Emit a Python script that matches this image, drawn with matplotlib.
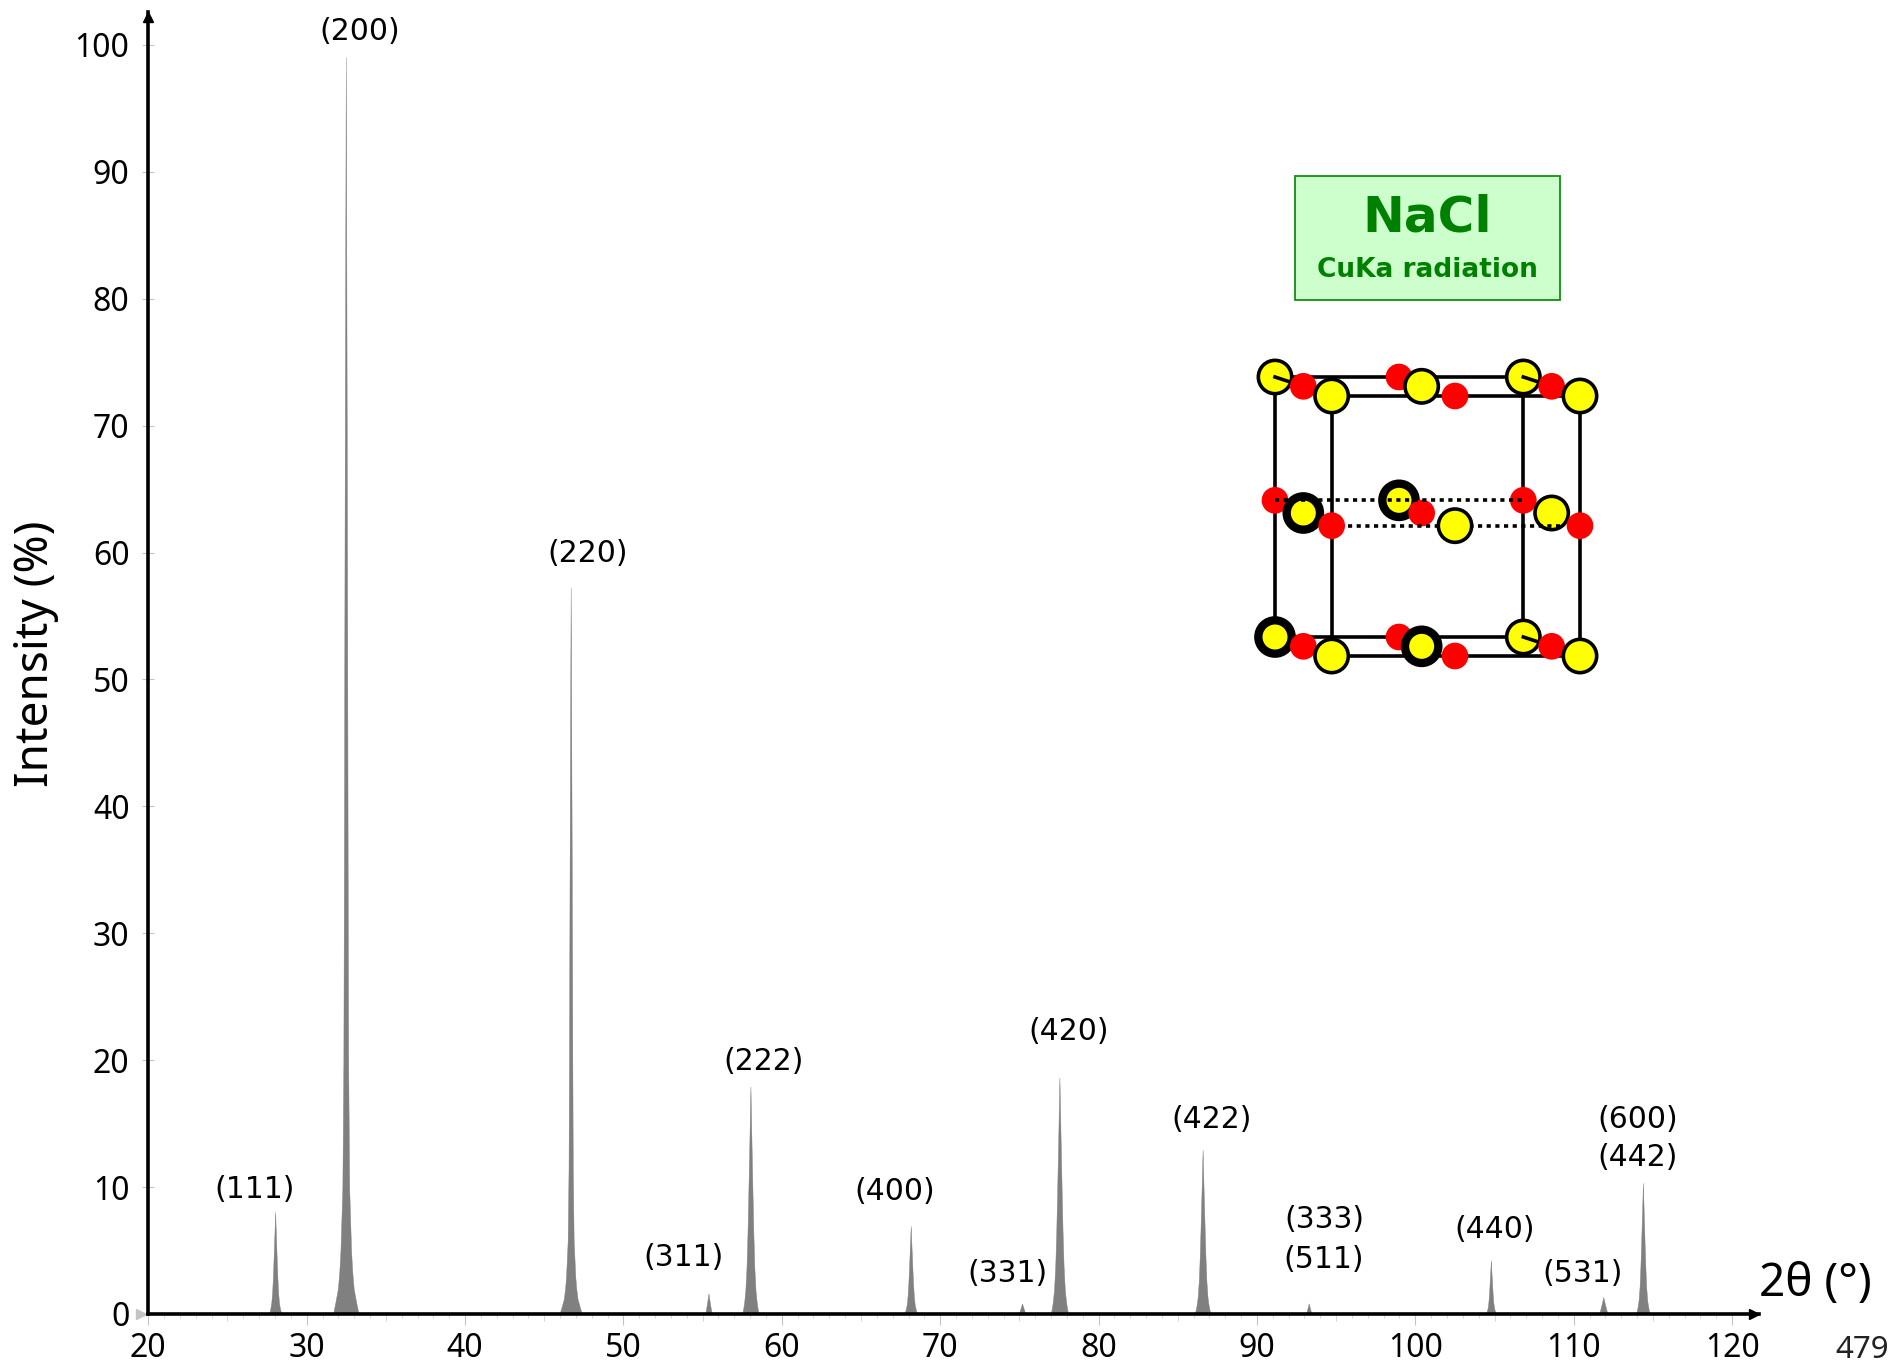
#!/usr/bin/env python3
# -*- coding: utf-8 -*-
import matplotlib
matplotlib.use("Agg")
import matplotlib.pyplot as plt
from matplotlib.patches import Circle, Rectangle

W, H = 1895, 1366
plt.rcParams['font.family'] = ['Noto Sans', 'DejaVu Sans']

# peaks
PEAK_HKL = ["111", "200", "220", "311", "222", "400", "331", "420", "422", "333/511", "440", "531", "600/442"]
PEAK_POS = [28.04, 32.5, 46.7, 55.4, 58.05, 68.17, 75.2, 77.56, 86.6, 93.3, 104.8, 111.9, 114.4]
PEAK_INT = [8.0, 99.0, 57.2, 1.6, 17.9, 6.9, 0.8, 18.6, 12.9, 0.8, 4.2, 1.3, 10.3]
PEAK_BASE = [0.40, 0.80, 0.70, 0.20, 0.52, 0.41, 0.21, 0.55, 0.50, 0.17, 0.33, 0.26, 0.44]
# peak outlines as seen on the tall, medium and tiny peaks
TALL_H = [0, 0.005, 0.01, 0.02, 0.035, 0.05, 0.10, 0.20, 0.35, 0.60, 0.85, 1.0]
TALL_W = [1, 0.90, 0.80, 0.62, 0.50, 0.42, 0.27, 0.19, 0.15, 0.10, 0.04, 0.0]
MID_H = [0, 0.02, 0.05, 0.10, 0.20, 0.35, 0.50, 0.75, 1.0]
MID_W = [1, 0.88, 0.76, 0.62, 0.48, 0.36, 0.27, 0.13, 0.0]
SMALL_H = [0, 0.25, 0.50, 0.75, 1.0]
SMALL_W = [1, 0.72, 0.46, 0.22, 0.0]

X_TICKS = list(range(20, 121, 10))
Y_TICKS = list(range(0, 101, 10))

# label text and its centre in reference pixels
LABEL_TXT = ["(111)", "(200)", "(220)", "(311)", "(222)", "(400)", "(331)", "(420)", "(422)",
             "(333)", "(511)", "(440)", "(531)", "(600)", "(442)"]
LABEL_PX = [255, 360, 588, 684, 764, 895, 1007, 1069, 1212, 1324, 1324, 1495, 1583, 1638, 1638]
LABEL_PY = [1188, 29, 552, 1256, 1059, 1190, 1272, 1030, 1117, 1218, 1257, 1227, 1272, 1118, 1155]

# rock salt cell: centres by depth k and position i / height j, in crop units
CELL_X = [[165, 537, 910], [250, 605, 995], [335, 705, 1080]]
CELL_Y = [[651, 1021, 1431], [679, 1059, 1459], [708, 1097, 1488]]
THICK_ATOMS = [(0, 2, 0), (0, 1, 1), (1, 1, 0), (1, 2, 1)]  # i, j, k

fig = plt.figure(figsize=(W / 100, H / 100), dpi=100)
ax = fig.add_axes([148.3 / W, 1 - 1314 / H, (1759 - 148.3) / W, (1314 - 12) / H])
ax.set_xlim(20, 121.7)
ax.set_ylim(0, 102.6)

for pos, h, base in zip(PEAK_POS, PEAK_INT, PEAK_BASE):
    if h > 40:
        ph, pw = TALL_H, TALL_W
    elif h > 2:
        ph, pw = MID_H, MID_W
    else:
        ph, pw = SMALL_H, SMALL_W
    xs = [pos - base * w for w in pw] + [pos + base * w for w in pw[::-1]]
    ys = [h * p for p in ph] + [h * p for p in ph[::-1]]
    ax.fill(xs, ys, color="#808080", lw=0.3, zorder=2)

for s in ["top", "right"]:
    ax.spines[s].set_visible(False)
for s in ["left", "bottom"]:
    ax.spines[s].set_linewidth(2.6)
    ax.spines[s].set_zorder(4)

ax.set_xticks(X_TICKS)
ax.set_yticks(Y_TICKS)
ax.set_xticks(range(21, 121), minor=True)
ax.tick_params(axis="x", which="major", length=8, width=0.8, color="#c4c4c4", pad=5, labelsize=23)
ax.tick_params(axis="x", which="minor", length=3, width=0.6, color="#d0d0d0")
ax.tick_params(axis="y", which="major", direction="inout", length=9, width=0.8, color="#c4c4c4", pad=9, labelsize=23)
for t, loc in zip(ax.xaxis.get_minor_ticks(), ax.xaxis.get_minorticklocs()):
    if int(round(loc)) % 5 == 0:
        t.tick1line.set_markersize(5)

# axis arrows and the little grey marker at the origin
ax.plot(1 - 5 / 1611, 0, ">", ms=7.5, color="black", transform=ax.transAxes, clip_on=False, zorder=5)
ax.plot(0, 1 - 5 / 1302, "^", ms=7, color="black", transform=ax.transAxes, clip_on=False, zorder=5)
ax.plot(19.55, 0, ">", ms=7, color="#c4c4c4", clip_on=False, zorder=1)


def put(px, py, s, size, **kw):
    fig.text(px / W, 1 - py / H, s, fontsize=size, ha="center", va="center", **kw)


for s, px, py in zip(LABEL_TXT, LABEL_PX, LABEL_PY):
    put(px, py + 2, s, 21.5, color="black", family="DejaVu Sans")
put(36, 654, "Intensity (%)", 33, rotation=90)
put(1815, 1284, "2θ (°)", 33)
put(1862, 1350, "479", 22.5, color="#222222")

# inset with the label box and unit cell, in crop units
ins = fig.add_axes([1220 / W, 1 - 700 / H, 400 / W, 540 / H])
ins.set_xlim(0, 1200)
ins.set_ylim(1620, 0)
ins.axis("off")

ins.add_patch(Rectangle((225, 48), 795, 373, fc="#ccffcc", ec="#109010", lw=1.3))
ins.text(622, 173, "NaCl", color="#008000", fontsize=36, fontweight="bold", family="DejaVu Sans", ha="center", va="center")
ins.text(622, 331, "CuKa radiation", color="#008000", fontsize=19, fontweight="bold", family="DejaVu Sans", ha="center", va="center")

# cell edges
for k in [0, 2]:
    xl, xr = CELL_X[k][0], CELL_X[k][2]
    yt, yb = CELL_Y[k][0], CELL_Y[k][2]
    ins.plot([xl, xr], [yt, yt], color="black", lw=2.6, zorder=1)
    ins.plot([xl, xr], [yb, yb], color="black", lw=2.6, zorder=1)
    ins.plot([xl, xl], [yt, yb], color="black", lw=2.6, zorder=1)
    ins.plot([xr, xr], [yt, yb], color="black", lw=2.6, zorder=1)

for k in range(3):
    for i in range(3):
        for j in range(3):
            x, y = CELL_X[k][i], CELL_Y[k][j]
            z = 2 + k + 0.1 * j
            if (i + j + k) % 2:
                ins.add_patch(Circle((x, y), 40, fc="#ff0000", ec="none", zorder=z))
            elif (i, j, k) in THICK_ATOMS:
                ins.add_patch(Circle((x, y), 50, fc="#ffff00", ec="black", lw=6, zorder=z))
            else:
                ins.add_patch(Circle((x, y), 50, fc="#ffff00", ec="black", lw=2.6, zorder=z))

# dotted mid planes run over the back atoms
ins.plot([CELL_X[0][0], CELL_X[0][2]], [CELL_Y[0][1]] * 2, color="black", lw=2.6, ls=(0, (1.15, 1.25)), zorder=3.5)
ins.plot([CELL_X[2][0] + 50, CELL_X[2][2] - 60], [CELL_Y[2][1]] * 2, color="black", lw=2.6, ls=(0, (1.15, 1.25)), zorder=3.5)
# stubs of the depth edges on the back corners
for i, j in [(0, 0), (2, 0), (2, 2)]:
    ins.plot([CELL_X[0][i], CELL_X[1][i]], [CELL_Y[0][j], CELL_Y[1][j]], color="black", lw=2.6, zorder=2.5)

fig.savefig("out.png", dpi=100)
